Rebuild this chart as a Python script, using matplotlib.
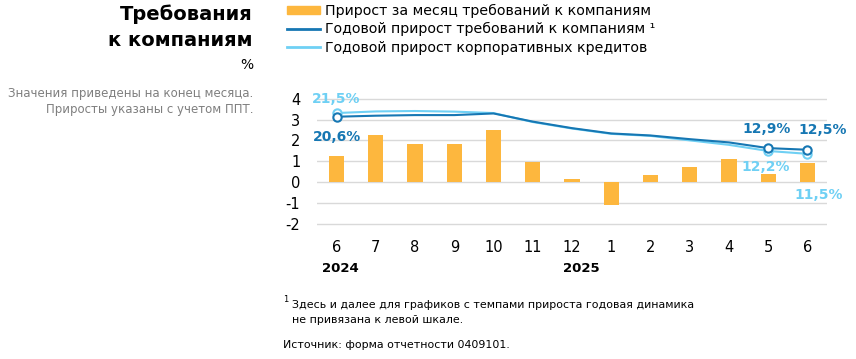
import matplotlib
matplotlib.use("Agg")
import matplotlib.pyplot as plt
import matplotlib.transforms as mtransforms
from matplotlib.patches import Patch
from matplotlib.lines import Line2D

months = ["6", "7", "8", "9", "10", "11", "12", "1", "2", "3", "4", "5", "6"]
monthly_growth = [1.25, 2.24, 1.83, 1.84, 2.51, 0.98, 0.13, -1.1, 0.32, 0.74, 1.1, 0.38, 0.9]
annual_claims = [20.6, 20.85, 21.0, 21.0, 21.4, 19.4, 17.8, 16.5, 16.0, 15.1, 14.3, 12.9, 12.5]
annual_loans = [21.5, 21.9, 22.0, 21.85, 21.5, 19.3, 17.7, 16.4, 15.9, 14.8, 13.7, 12.2, 11.5]
yticks = [-2, -1, 0, 1, 2, 3, 4]
years = ["2024", "2025"]

ORANGE = "#fdb73e"
DARK = "#1677b3"
LIGHT = "#6fd0f4"
GRID = "#d9d9d9"
FONT = "DejaVu Sans"
plt.rcParams["font.family"] = [FONT]

W, H = 856, 359
fig = plt.figure(figsize=(W / 100, H / 100), dpi=100)

def fx(px):
    return px / W

def fy(py):
    return 1 - py / H

ax = fig.add_axes([fx(317), fy(227.8), (827 - 317) / W, (227.8 - 90.5) / H])
ax.set_xlim(-0.5, 12.5)
ax.set_ylim(-2.2, 4.4)
x = list(range(len(months)))
for yv in yticks:
    ax.axhline(yv, color=GRID, lw=1, zorder=0)
ax.bar(x, monthly_growth, width=0.39, color=ORANGE, zorder=2)
for s in ax.spines.values():
    s.set_visible(False)
ax.set_yticks(yticks)
ax.set_yticklabels([str(v) for v in yticks])
ax.tick_params(axis="y", length=0, pad=12, labelsize=10.5)
ax.set_xticks(x)
ax.set_xticklabels(months)
ax.tick_params(axis="x", length=0, pad=9, labelsize=10.5)

ax2 = ax.twinx()
ax2.set_ylim(-6.64, 27.03)
ax2.set_axis_off()
ax2.plot(x, annual_loans, color=LIGHT, lw=1.5, zorder=3)
ax2.plot(x, annual_claims, color=DARK, lw=1.5, zorder=4)
mk = [0, 11, 12]
ax2.plot([x[i] for i in mk], [annual_loans[i] for i in mk], "o", ms=6, mfc="white",
         mec=LIGHT, mew=1.5, zorder=5, ls="none")
ax2.plot([x[i] for i in mk], [annual_claims[i] for i in mk], "o", ms=6, mfc="white",
         mec=DARK, mew=1.5, zorder=6, ls="none")

def fmt(v):
    return f"{v:.1f}".replace(".", ",") + "%"

ann = dict(fontsize=10, fontweight="bold", textcoords="offset points", ha="center", va="center")
ax2.annotate(fmt(annual_loans[0]), (x[0], annual_loans[0]), xytext=(0, 10), color=LIGHT, **ann)
ax2.annotate(fmt(annual_claims[0]), (x[0], annual_claims[0]), xytext=(0, -14.6), color=DARK, **ann)
ax2.annotate(fmt(annual_claims[11]), (x[11], annual_claims[11]), xytext=(-1, 13.7), color=DARK, **ann)
ax2.annotate(fmt(annual_claims[12]), (x[12], annual_claims[12]), xytext=(11, 14.4), color=DARK, **ann)
ax2.annotate(fmt(annual_loans[11]), (x[11], annual_loans[11]), xytext=(-2, -11.3), color=LIGHT, **ann)
ax2.annotate(fmt(annual_loans[12]), (x[12], annual_loans[12]), xytext=(8, -30), color=LIGHT, **ann)

bt = mtransforms.blended_transform_factory(ax.transData, fig.transFigure)
ax.text(0.09, fy(268), years[0], transform=bt, ha="center", va="center", fontsize=9.5, fontweight="bold")
ax.text(6.24, fy(268), years[1], transform=bt, ha="center", va="center", fontsize=9.5, fontweight="bold")

# title block
fig.text(fx(253), fy(14), "Требования", ha="right", va="center", fontsize=14, fontweight="bold")
fig.text(fx(253), fy(41), "к компаниям", ha="right", va="center", fontsize=14, fontweight="bold")
fig.text(fx(253), fy(65), "%", ha="right", va="center", fontsize=10)
fig.text(fx(253), fy(94), "Значения приведены на конец месяца.", ha="right", va="center",
         fontsize=8.5, color="#7f7f7f")
fig.text(fx(253), fy(109), "Приросты указаны с учетом ППТ.", ha="right", va="center",
         fontsize=8.5, color="#7f7f7f")

# legend
handles = [Patch(color=ORANGE), Line2D([], [], color=DARK, lw=2), Line2D([], [], color=LIGHT, lw=2)]
labels = ["Прирост за месяц требований к компаниям",
          "Годовой прирост требований к компаниям ¹",
          "Годовой прирост корпоративных кредитов"]
fig.legend(handles, labels, loc="upper left", bbox_to_anchor=(fx(287), fy(4)),
           frameon=False, fontsize=10.2, handlelength=2.35, handleheight=0.55,
           handletextpad=0.35, labelspacing=0.3, borderpad=0, borderaxespad=0)

# footnotes
fig.text(fx(283), fy(300), "1", fontsize=6, va="center", ha="left")
fig.text(fx(292), fy(305), "Здесь и далее для графиков с темпами прироста годовая динамика",
         fontsize=7.9, va="center", ha="left")
fig.text(fx(292), fy(320), "не привязана к левой шкале.", fontsize=7.9, va="center", ha="left")
fig.text(fx(283), fy(345), "Источник: форма отчетности 0409101.", fontsize=7.9, va="center", ha="left")

fig.savefig("out.png", dpi=100)
